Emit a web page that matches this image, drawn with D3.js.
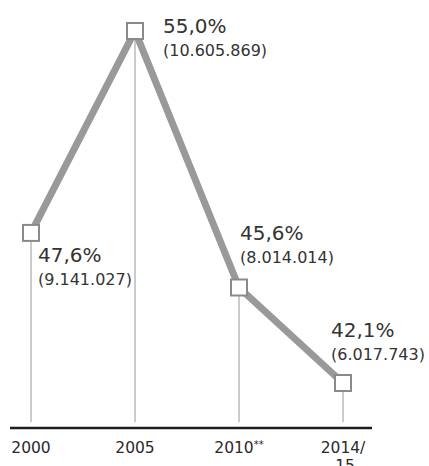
<!DOCTYPE html>
<meta charset="utf-8">
<style>
  body { margin: 0; background: #fff; }
  svg { display: block; }
  .lbl { font-family: "DejaVu Sans", sans-serif; fill: #333; }
  .tick { font-family: "DejaVu Sans", sans-serif; fill: #2a2a2a; font-size: 15.5px; }
</style>
<body></body>
<script src="https://d3js.org/d3.v7.min.js"></script>
<script>
  // data
  var years = ["2000", "2005", "2010**", "2014/15"];
  var shares = [47.6, 55.0, 45.6, 42.1];
  var counts = ["9.141.027", "10.605.869", "8.014.014", "6.017.743"];
  var shareLabels = ["47,6%", "55,0%", "45,6%", "42,1%"];

  // where each label sits relative to its point (dx, dy of first line)
  var labelPos = [[7, 29], [28, 2], [1, -47], [-12, -46]];

  var width = 429, height = 466;
  var axisY = 428;

  var svg = d3.select("body").append("svg")
    .attr("width", width)
    .attr("height", height);

  var x = d3.scalePoint().domain(years).range([31, 343]);
  var y = d3.scaleLinear()
    .domain([d3.min(shares), d3.max(shares)])
    .range([383, 31]);

  var data = years.map(function(d, i) {
    return { year: d, share: shares[i], count: counts[i], label: shareLabels[i], pos: labelPos[i] };
  });

  // drop lines
  svg.append("g").selectAll("line")
    .data(data)
    .enter().append("line")
    .attr("x1", function(d) { return x(d.year); })
    .attr("x2", function(d) { return x(d.year); })
    .attr("y1", function(d) { return y(d.share); })
    .attr("y2", axisY - 6)
    .attr("stroke", "#a8a8a8")
    .attr("stroke-width", 1.2);

  // axis baseline
  svg.append("line")
    .attr("x1", 10).attr("x2", 372)
    .attr("y1", axisY).attr("y2", axisY)
    .attr("stroke", "#1e1e1e")
    .attr("stroke-width", 2.6);

  // tick labels
  var ticks = svg.append("g").attr("class", "tick");
  data.forEach(function(d) {
    var t = ticks.append("text")
      .attr("x", x(d.year))
      .attr("y", axisY + 25)
      .attr("text-anchor", "middle");
    if (d.year.indexOf("**") > 0) {
      t.append("tspan").text(d.year.replace("**", ""));
      t.append("tspan").attr("font-size", "10px").attr("dy", -5).text("**");
    } else if (d.year.indexOf("/") > 0) {
      var parts = d.year.split("/");
      t.append("tspan").attr("x", x(d.year)).text(parts[0] + "/");
      t.append("tspan").attr("x", x(d.year) + 2).attr("dy", 18).text(parts[1]);
    } else {
      t.text(d.year);
    }
  });

  // main line
  var line = d3.line()
    .x(function(d) { return x(d.year); })
    .y(function(d) { return y(d.share); });

  svg.append("path")
    .datum(data)
    .attr("d", line)
    .attr("fill", "none")
    .attr("stroke", "#999")
    .attr("stroke-width", 7)
    .attr("stroke-linejoin", "miter");

  // markers
  var s = 16;
  svg.append("g").selectAll("rect")
    .data(data)
    .enter().append("rect")
    .attr("x", function(d) { return x(d.year) - s / 2; })
    .attr("y", function(d) { return y(d.share) - s / 2; })
    .attr("width", s)
    .attr("height", s)
    .attr("fill", "#fff")
    .attr("stroke", "#8a8a8a")
    .attr("stroke-width", 2);

  // value labels
  var labels = svg.append("g").attr("class", "lbl");
  data.forEach(function(d) {
    var lx = x(d.year) + d.pos[0], ly = y(d.share) + d.pos[1];
    labels.append("text")
      .attr("x", lx).attr("y", ly)
      .attr("font-size", "20px")
      .text(d.label);
    labels.append("text")
      .attr("x", lx).attr("y", ly + 23)
      .attr("font-size", "16px")
      .text("(" + d.count + ")");
  });
</script>
